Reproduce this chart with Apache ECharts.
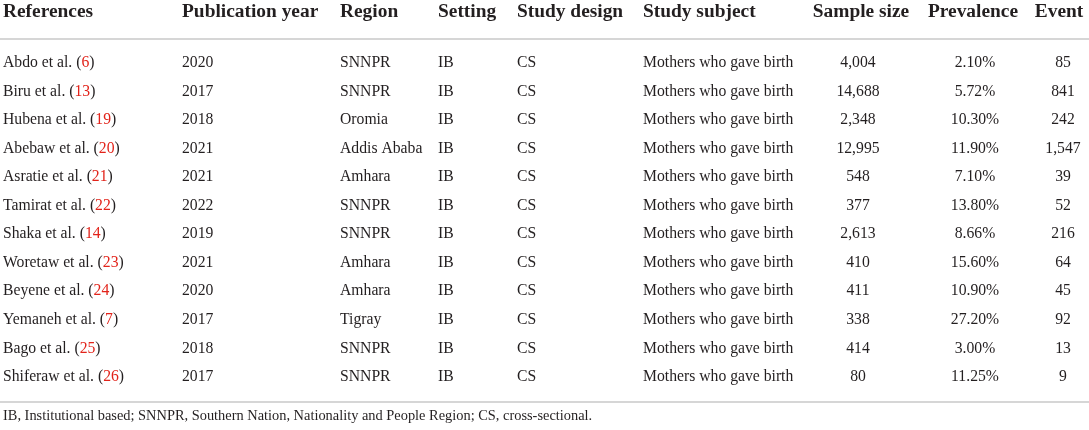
<!DOCTYPE html>
<html>
<head>
<meta charset="utf-8">
<script src="https://cdn.jsdelivr.net/npm/echarts@6/dist/echarts.min.js"></script>
<style>
html,body{margin:0;padding:0;background:#fff;}
#main{width:1089px;height:430px;}
</style>
</head>
<body>
<div id="main"></div>
<script>
// ---- data ----
var headers = ["References", "Publication year", "Region", "Setting", "Study design", "Study subject", "Sample size", "Prevalence", "Event"];
var authors = ["Abdo et al.", "Biru et al.", "Hubena et al.", "Abebaw et al.", "Asratie et al.", "Tamirat et al.", "Shaka et al.", "Woretaw et al.", "Beyene et al.", "Yemaneh et al.", "Bago et al.", "Shiferaw et al."];
var refNums = [6, 13, 19, 20, 21, 22, 14, 23, 24, 7, 25, 26];
var years = [2020, 2017, 2018, 2021, 2021, 2022, 2019, 2021, 2020, 2017, 2018, 2017];
var regions = ["SNNPR", "SNNPR", "Oromia", "Addis Ababa", "Amhara", "SNNPR", "SNNPR", "Amhara", "Amhara", "Tigray", "SNNPR", "SNNPR"];
var settings = ["IB", "IB", "IB", "IB", "IB", "IB", "IB", "IB", "IB", "IB", "IB", "IB"];
var designs = ["CS", "CS", "CS", "CS", "CS", "CS", "CS", "CS", "CS", "CS", "CS", "CS"];
var subjects = ["Mothers who gave birth", "Mothers who gave birth", "Mothers who gave birth", "Mothers who gave birth", "Mothers who gave birth", "Mothers who gave birth", "Mothers who gave birth", "Mothers who gave birth", "Mothers who gave birth", "Mothers who gave birth", "Mothers who gave birth", "Mothers who gave birth"];
var sampleSizes = [4004, 14688, 2348, 12995, 548, 377, 2613, 410, 411, 338, 414, 80];
var prevalence = [2.10, 5.72, 10.30, 11.90, 7.10, 13.80, 8.66, 15.60, 10.90, 27.20, 3.00, 11.25];
var events = [85, 841, 242, 1547, 39, 52, 216, 64, 45, 92, 13, 9];
var footnote = "IB, Institutional based; SNNPR, Southern Nation, Nationality and People Region; CS, cross-sectional.";

// ---- layout (not data) ----
var colX = [3, 182, 340, 438, 517, 643, 858, 975, 1063];
var headX = [3, 182, 340, 438, 517, 643, 861, 973, 1059];
var colAlign = ["left", "left", "left", "left", "left", "left", "center", "center", "center"];
var HEADER_ROW = -1.78;
var RULE_ROW = -0.841;
var FOOT_ROW = 12.39;
var TXT = "#231f20";
var RED = "#e2231a";
var RULE = "#c8c8c8";
var BODY_FONT = "15.7px 'Liberation Serif', 'DejaVu Serif', serif";
var HEAD_FONT = "bold 19.4px 'Liberation Serif', 'DejaVu Serif', serif";
var FOOT_FONT = "14.4px 'Liberation Serif', 'DejaVu Serif', serif";

function fmt(n) { return n.toLocaleString('en-US'); }

var rowsData = authors.map(function (a, i) { return [0, i]; });

var chart = echarts.init(document.getElementById('main'), null, { renderer: 'canvas' });

chart.setOption({
  animation: false,
  backgroundColor: '#fff',
  grid: { left: 0, right: 0, top: 0, bottom: 28 },
  xAxis: [{
    type: 'value', min: 0, max: 1089, position: 'bottom',
    axisLine: { show: true, onZero: false, lineStyle: { color: RULE, width: 1.5 } },
    axisTick: { show: false }, axisLabel: { show: false }, splitLine: { show: false }
  }],
  yAxis: {
    type: 'value', inverse: true, min: -2.207, max: 11.876,
    show: false
  },
  series: [
    {
      type: 'custom',
      clip: false,
      data: [[0, HEADER_ROW]],
      renderItem: function (params, api) {
        var children = headers.map(function (h, c) {
          var p = api.coord([headX[c], HEADER_ROW]);
          return {
            type: 'text',
            style: { text: h, x: p[0], y: p[1], align: colAlign[c], verticalAlign: 'middle', font: HEAD_FONT, fill: TXT }
          };
        });
        var l0 = api.coord([0, RULE_ROW]);
        var l1 = api.coord([1089, RULE_ROW]);
        children.push({
          type: 'line',
          shape: { x1: l0[0], y1: l0[1], x2: l1[0], y2: l1[1] },
          style: { stroke: RULE, lineWidth: 1.5 }
        });
        var f = api.coord([3, FOOT_ROW]);
        children.push({
          type: 'text',
          style: { text: footnote, x: f[0], y: f[1], align: 'left', verticalAlign: 'middle', font: FOOT_FONT, fill: TXT }
        });
        return { type: 'group', children: children };
      }
    },
    {
      type: 'custom',
      clip: false,
      data: rowsData,
      renderItem: function (params, api) {
        var i = params.dataIndex;
        var row = api.value(1);
        var vals = [
          null,
          String(years[i]),
          regions[i],
          settings[i],
          designs[i],
          subjects[i],
          fmt(sampleSizes[i]),
          prevalence[i].toFixed(2) + '%',
          fmt(events[i])
        ];
        var children = [];
        vals.forEach(function (v, c) {
          var p = api.coord([colX[c], row]);
          if (c === 0) {
            children.push({
              type: 'text',
              style: {
                text: '{n|' + authors[i] + ' (}{r|' + refNums[i] + '}{n|)}',
                x: p[0], y: p[1], align: 'left', verticalAlign: 'middle',
                font: BODY_FONT, fill: TXT,
                rich: {
                  n: { font: BODY_FONT, fill: TXT, color: TXT },
                  r: { font: BODY_FONT, fill: RED, color: RED }
                }
              }
            });
          } else {
            children.push({
              type: 'text',
              style: { text: v, x: p[0], y: p[1], align: colAlign[c], verticalAlign: 'middle', font: BODY_FONT, fill: TXT }
            });
          }
        });
        return { type: 'group', children: children };
      }
    }
  ]
});
</script>
</body>
</html>
